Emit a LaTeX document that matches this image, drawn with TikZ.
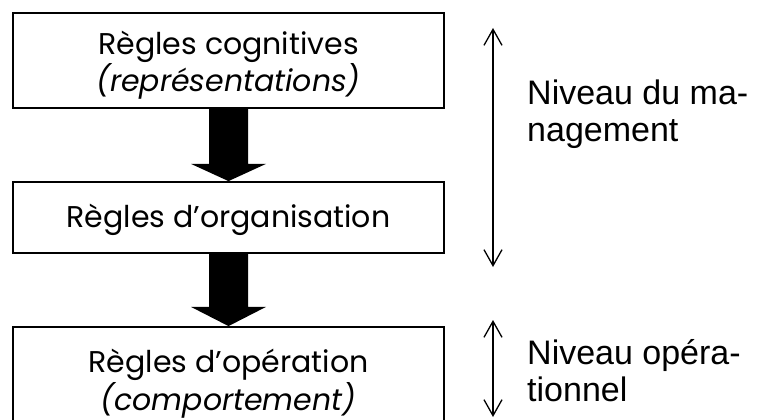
\documentclass[tikz,border=0pt]{standalone}
\usepackage{fontspec}
\setmainfont{Liberation Sans}
\newfontfamily\boxfont{Poppins}
\usetikzlibrary{arrows.meta,calc}
\begin{document}
\begin{tikzpicture}[x=1pt,y=1pt,
  rulebox/.style={draw=black, line width=1.8pt, minimum width=431pt, inner sep=0pt},
  boxtext/.style={anchor=base, align=center, inner sep=0pt, font=\boxfont\fontsize{30}{36}\selectfont},
  blockarrow/.style={fill=black},
  levelarrow/.style={line width=1.3pt, {Straight Barb[length=16pt,width=18pt]}-{Straight Barb[length=16pt,width=18pt]}},
  levellabel/.style={anchor=base west, align=left, inner sep=0pt, font=\fontsize{34}{37}\selectfont}]
\useasboundingbox (0,0) rectangle (758,-420);
\clip (0,0) rectangle (758,-420);
\fill[white] (0,0) rectangle (758,-420);
\node[rulebox, minimum height=95pt] (b1) at (228.5,-60.5) {};
\node[rulebox, minimum height=71pt] (b2) at (228.5,-217.5) {};
\node[rulebox, minimum height=108pt] (b3) at (228.5,-381) {};
\node[boxtext] (t1) at ($(b1.center)+(0,-31.5)$) {Règles cognitives\\\textit{(représentations)}};
\node[boxtext] (t2) at ($(b2.center)+(0,-9.5)$) {Règles d’organisation};
\node[boxtext] (t3) at ($(b3.center)+(0,-29)$) {Règles d’opération\\\textit{(comportement)}};
\fill[blockarrow] ($(b1.south)+(-19.5,0)$) -- ++(0,-55) -- ++(-18,0) -- (b2.north) -- ($(b1.south)+(37.5,-55)$) -- ++(-18,0) -- ($(b1.south)+(19.5,0)$) -- cycle;
\fill[blockarrow] ($(b2.south)+(-19.5,0)$) -- ++(0,-53) -- ++(-18,0) -- (b3.north) -- ($(b2.south)+(37.5,-53)$) -- ++(-18,0) -- ($(b2.south)+(19.5,0)$) -- cycle;
\coordinate (m1) at (493,-28);
\coordinate (m2) at (493,-267);
\coordinate (o1) at (493,-320);
\coordinate (o2) at (493,-417);
\draw[levelarrow] (m1) -- (m2);
\draw[levelarrow] (o1) -- (o2);
\node[levellabel] (lm) at (527,-141) {Niveau du ma-\\nagement};
\node[levellabel] (lo) at (527,-401) {Niveau opéra-\\tionnel};
\end{tikzpicture}
\end{document}
